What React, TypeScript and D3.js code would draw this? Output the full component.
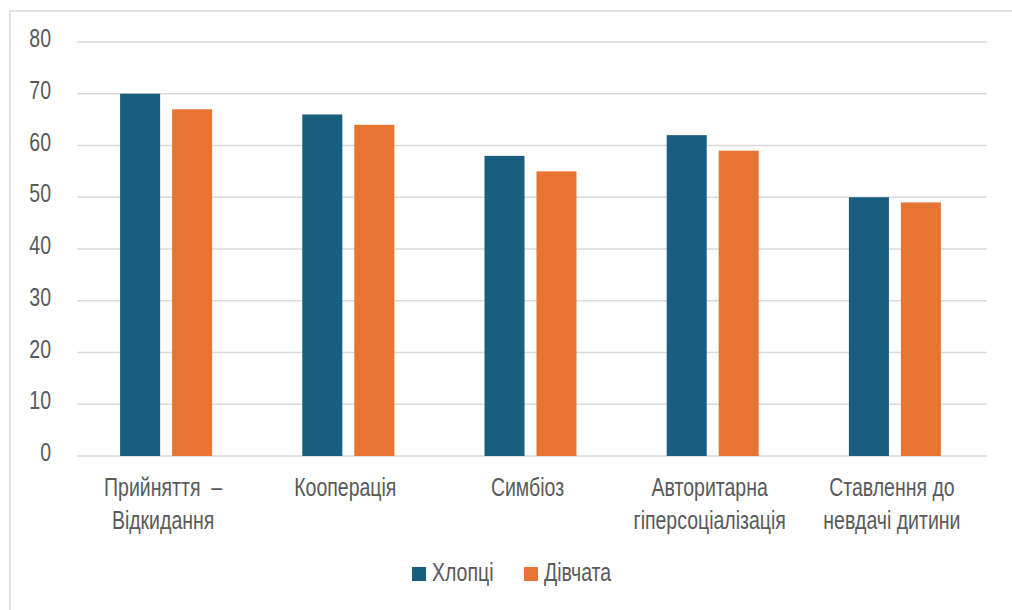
import React from "react";
import * as d3 from "d3";

// Chart data
const categories: string[] = [
  "Прийняття – Відкидання",
  "Кооперація",
  "Симбіоз",
  "Авторитарна гіперсоціалізація",
  "Ставлення до невдачі дитини",
];
// Wrapped axis labels (one array of lines per category)
const categoryLines: string[][] = [
  ["Прийняття  –", "Відкидання"],
  ["Кооперація"],
  ["Симбіоз"],
  ["Авторитарна", "гіперсоціалізація"],
  ["Ставлення до", "невдачі дитини"],
];
const seriesNames: string[] = ["Хлопці", "Дівчата"];
const boysValues: number[] = [70, 66, 58, 62, 50];
const girlsValues: number[] = [67, 64, 55, 59, 49];
const yTicks: number[] = [0, 10, 20, 30, 40, 50, 60, 70, 80];

const W = 1012;
const H = 610;
const COLORS = ["#175E7F", "#E87431"];
const TEXT = "#595959";
const GRID = "#D9D9D9";
const FONT = "'Liberation Sans', Arial, sans-serif";
const FS = 26;
const SX = 0.75;

export default function App() {
  const y = d3.scaleLinear().domain([0, 80]).range([456, 42]);
  const x0 = d3
    .scaleBand<string>()
    .domain(categories)
    .range([75, 986])
    .paddingInner(0.495)
    .paddingOuter(0.2475);
  const x1 = d3
    .scaleBand<string>()
    .domain(seriesNames)
    .range([0, x0.bandwidth()])
    .paddingInner(0.23);
  const values = [boysValues, girlsValues];

  return (
    <svg
      width={W}
      height={H}
      style={{ position: "absolute", left: 0, top: 0, background: "#fff" }}
    >
      <rect x={0} y={0} width={W} height={H} fill="#fff" />
      {/* chart area frame */}
      <rect x={10} y={11} width={W + 20} height={H + 20} fill="none" stroke={GRID} strokeWidth={1.5} />

      {/* gridlines */}
      {yTicks.map((t) => (
        <line key={t} x1={77} x2={987} y1={y(t)} y2={y(t)} stroke={GRID} strokeWidth={1.5} />
      ))}

      {/* y tick labels */}
      {yTicks.map((t) => (
        <text
          key={"l" + t}
          transform={`translate(51,${y(t) + 5}) scale(${SX},1)`}
          textAnchor="end"
          fontFamily={FONT}
          fontSize={FS}
          fill={TEXT}
        >
          {t}
        </text>
      ))}

      {/* bars */}
      {categories.map((c, i) => (
        <g key={c} transform={`translate(${x0(c)},0)`}>
          {seriesNames.map((s, j) => (
            <rect
              key={s}
              x={x1(s)}
              y={y(values[j][i])}
              width={x1.bandwidth()}
              height={y(0) - y(values[j][i])}
              fill={COLORS[j]}
            />
          ))}
        </g>
      ))}

      {/* category labels */}
      {categories.map((c, i) => {
        const cx = (x0(c) as number) + x0.bandwidth() / 2 - 3;
        return categoryLines[i].map((ln, k) => (
          <text
            key={c + k}
            transform={`translate(${cx},${496 + k * 33}) scale(${SX},1)`}
            textAnchor="middle"
            fontFamily={FONT}
            fontSize={FS}
            fill={TEXT}
            style={{ whiteSpace: "pre" }}
          >
            {ln}
          </text>
        ));
      })}

      {/* legend */}
      {seriesNames.map((s, j) => {
        const lx = j === 0 ? 412 : 524;
        return (
          <g key={"lg" + s}>
            <rect x={lx} y={567} width={14} height={14} fill={COLORS[j]} />
            <text
              transform={`translate(${lx + 20},581) scale(${SX},1)`}
              fontFamily={FONT}
              fontSize={FS}
              fill={TEXT}
            >
              {s}
            </text>
          </g>
        );
      })}
    </svg>
  );
}
